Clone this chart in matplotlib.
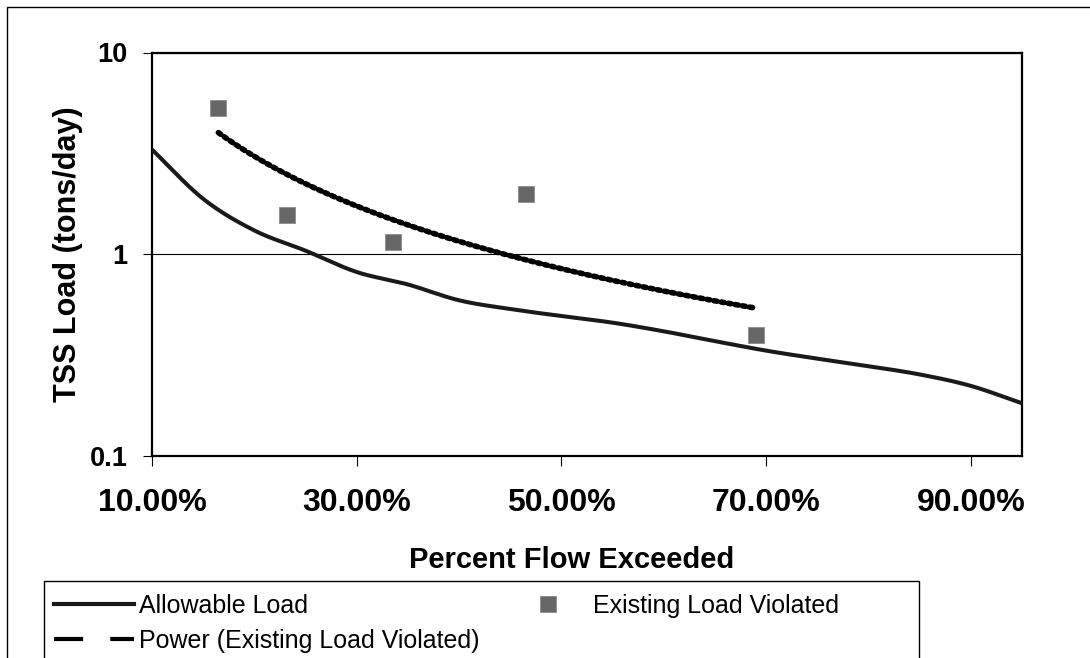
import numpy as np
import matplotlib
matplotlib.use("Agg")
import matplotlib.pyplot as plt
from matplotlib.lines import Line2D
from matplotlib.patches import Rectangle
from matplotlib.ticker import FixedLocator, FuncFormatter, NullLocator

plt.rcParams['font.family'] = ['Liberation Sans', 'DejaVu Sans']

# Load duration curve: allowable TSS load by percent of flow exceeded
allow_pct = [0.10, 0.15, 0.20, 0.25, 0.30, 0.35, 0.40, 0.45, 0.50,
             0.55, 0.60, 0.65, 0.70, 0.75, 0.80, 0.85, 0.90, 0.95]
allow_load = [3.30, 1.88, 1.31, 1.04, 0.815, 0.707, 0.59, 0.534, 0.493,
              0.457, 0.414, 0.37, 0.332, 0.303, 0.278, 0.253, 0.222, 0.182]

# Observed loads that exceed the allowable load
viol_pct = [0.1648, 0.2316, 0.335, 0.4654, 0.6898]
viol_load = [5.29, 1.56, 1.15, 1.98, 0.397]

x_ticks = [0.10, 0.30, 0.50, 0.70, 0.90]
y_ticks = [0.1, 1, 10]
y_tick_labels = ["0.1", "1", "10"]


def catmull_rom(xs, ys, n=30):
    """Smooth curve through the points (uniform Catmull-Rom)."""
    px = np.concatenate([[2 * xs[0] - xs[1]], xs, [2 * xs[-1] - xs[-2]]])
    py = np.concatenate([[2 * ys[0] - ys[1]], ys, [2 * ys[-1] - ys[-2]]])
    out_x, out_y = [], []
    t = np.linspace(0, 1, n, endpoint=False)
    for i in range(1, len(px) - 2):
        for arr, out in ((px, out_x), (py, out_y)):
            p0, p1, p2, p3 = arr[i - 1], arr[i], arr[i + 1], arr[i + 2]
            out.extend(0.5 * (2 * p1 + (-p0 + p2) * t
                              + (2 * p0 - 5 * p1 + 4 * p2 - p3) * t ** 2
                              + (-p0 + 3 * p1 - 3 * p2 + p3) * t ** 3))
    out_x.append(xs[-1])
    out_y.append(ys[-1])
    return np.array(out_x), np.array(out_y)


ax_x = np.array(allow_pct)
ax_ly = np.log10(np.array(allow_load))
sx, sly = catmull_rom(ax_x, ax_ly)

# Power trendline fitted in log-log space
vx = np.array(viol_pct)
vy = np.array(viol_load)
b, ln_a = np.polyfit(np.log(vx), np.log(vy), 1)
tx = np.linspace(vx.min(), vx.max(), 200)
ty = np.exp(ln_a) * tx ** b

fig = plt.figure(figsize=(10.90, 6.58), dpi=100)
ax = fig.add_axes([152 / 1090, 1 - 455.7 / 658, 870 / 1090, 403.2 / 658])

ax.plot(sx, 10 ** sly, color='#1a1a1a', lw=2.9, solid_capstyle='butt', zorder=3)
ax.plot(tx, ty, color='black', lw=4.0, dashes=(0.55, 0.75),
        dash_capstyle='round', zorder=4)
ax.plot(vx, vy, linestyle='none', marker='s', ms=11, mfc='#676767',
        mec='#8c8c8c', mew=0.6, zorder=5)

ax.set_yscale('log')
ax.set_ylim(0.1, 10)
ax.set_xlim(0.10, 0.95)
ax.yaxis.set_major_locator(FixedLocator(y_ticks))
ax.yaxis.set_minor_locator(NullLocator())
ax.yaxis.set_major_formatter(FuncFormatter(
    lambda v, pos: y_tick_labels[y_ticks.index(min(y_ticks, key=lambda t: abs(t - v)))]))
ax.xaxis.set_major_locator(FixedLocator(x_ticks))
ax.xaxis.set_major_formatter(FuncFormatter(lambda v, pos: f"{v * 100:.2f}%"))
ax.yaxis.grid(True, which='major', color='black', lw=0.8)
ax.set_axisbelow(True)

for s in ax.spines.values():
    s.set_linewidth(1.6)
    s.set_color('black')

ax.tick_params(axis='y', which='major', direction='out', length=6.5, width=0.8,
               pad=11, labelsize=19.5)
ax.tick_params(axis='x', which='major', direction='out', length=7, width=0.8,
               pad=16, labelsize=23)
for lab in ax.get_xticklabels() + ax.get_yticklabels():
    lab.set_fontweight('bold')

ax.set_xlabel("Percent Flow Exceeded", fontsize=21, fontweight='bold')
ax.xaxis.set_label_coords(0.482, -0.258)
ax.xaxis.label.set_va('center')
ax.set_ylabel("TSS Load (tons/day)", fontsize=22, fontweight='bold')
ax.yaxis.set_label_coords(-0.097, 0.5)
ax.yaxis.label.set_va('center')

# Outer chart border and legend box
fig.patches.append(Rectangle((7 / 1090, -0.1), 1.2, 1 - 7 / 658 + 0.1,
                             transform=fig.transFigure, fill=False,
                             edgecolor='black', lw=1.0))
fig.patches.append(Rectangle((44 / 1090, -0.1), (919 - 44) / 1090,
                             1 - 581 / 658 + 0.1,
                             transform=fig.transFigure, fill=False,
                             edgecolor='black', lw=1.0))

handles = [
    Line2D([], [], color='#1a1a1a', lw=3.0),
    Line2D([], [], color='black', lw=3.0, dashes=(7.0, 6.5)),
    Line2D([], [], linestyle='none', marker='s', ms=11, mfc='#676767',
           mec='#8c8c8c', mew=0.6),
]
labels = ["Allowable Load", "Power (Existing Load Violated)",
          "Existing Load Violated"]
fig.legend(handles, labels, ncol=2, frameon=False, fontsize=18,
           loc='upper left', bbox_to_anchor=(49 / 1090, 1 - 589 / 658),
           borderaxespad=0, borderpad=0.2, handlelength=3.2,
           handletextpad=0.2, columnspacing=1.15, labelspacing=0.44)

fig.savefig("out.png", dpi=100)
